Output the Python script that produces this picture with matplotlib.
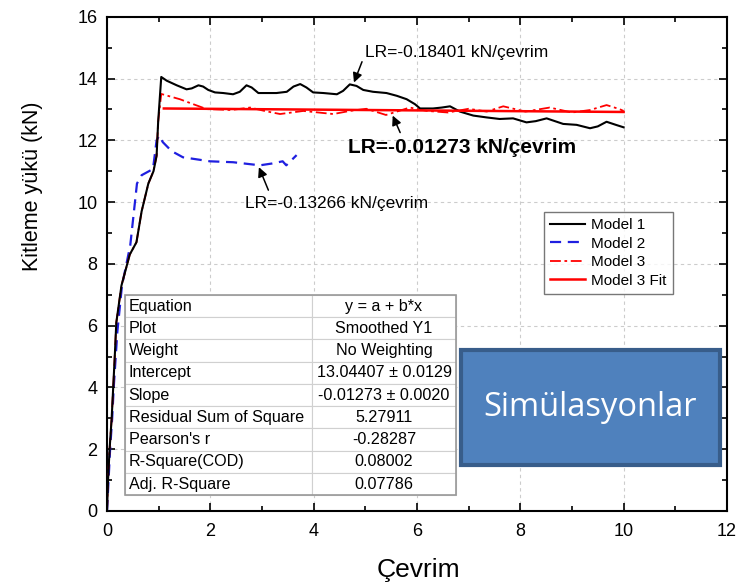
import numpy as np
import matplotlib
matplotlib.use("Agg")
import matplotlib.pyplot as plt
from matplotlib.patches import Rectangle

plt.rcParams['font.family'] = ['Liberation Sans', 'DejaVu Sans']

# Model 1 (black, solid)
m1_x = [0, 0.02, 0.05, 0.09, 0.12, 0.15, 0.18, 0.28, 0.44, 0.57, 0.67, 0.8, 0.9, 0.96, 0.99, 1.05,
        1.155, 1.35, 1.54, 1.64, 1.77, 1.86, 1.96, 2.09, 2.25, 2.44, 2.57, 2.70, 2.80, 2.93,
        3.28, 3.48, 3.61, 3.74, 3.86, 3.99, 4.19, 4.45, 4.57, 4.70, 4.83, 4.96, 5.15, 5.41,
        5.61, 5.8, 5.96, 6.06, 6.31, 6.48, 6.64, 6.83, 7.09, 7.35, 7.6, 7.86, 8.12, 8.3,
        8.51, 8.83, 9.09, 9.35, 9.5, 9.67, 9.85, 10.0]
m1_y = [0, 1.0, 2.0, 3.0, 4.0, 5.0, 6.1, 7.3, 8.3, 8.7, 9.7, 10.6, 11.0, 11.5, 12.6, 14.05,
        13.93, 13.78, 13.65, 13.68, 13.78, 13.74, 13.63, 13.55, 13.53, 13.49, 13.57, 13.78, 13.71, 13.53,
        13.53, 13.57, 13.74, 13.82, 13.71, 13.55, 13.53, 13.49, 13.6, 13.81, 13.76, 13.63, 13.57, 13.53,
        13.44, 13.33, 13.17, 13.03, 13.03, 13.06, 13.1, 12.93, 12.8, 12.74, 12.69, 12.71, 12.58, 12.62,
        12.71, 12.53, 12.5, 12.39, 12.45, 12.6, 12.5, 12.42]

# Model 2 (blue, dashed)
m2_x = [0, 0.03, 0.06, 0.1, 0.13, 0.2, 0.29, 0.45, 0.58, 0.67, 0.89, 0.96, 1.01, 1.08, 1.25, 1.47,
        1.99, 2.44, 2.96, 3.2, 3.4, 3.47, 3.67]
m2_y = [0, 1.0, 2.0, 3.0, 4.0, 5.8, 7.3, 8.6, 10.6, 10.87, 11.07, 12.0, 12.15, 11.94, 11.65, 11.45,
        11.32, 11.29, 11.19, 11.25, 11.32, 11.19, 11.52]

# Model 3 (red, dash-dot)
m3_x = [0, 0.02, 0.05, 0.09, 0.12, 0.15, 0.18, 0.28, 0.44, 0.57, 0.67, 0.8, 0.9, 0.96, 0.99, 1.05,
        1.41, 1.7, 1.93, 2.4, 2.77, 3.05, 3.35, 3.8, 4.38, 4.7, 5.02, 5.4, 5.86, 6.2, 6.6, 7.0,
        7.35, 7.67, 8.1, 8.57, 9.0, 9.35, 9.67, 9.92, 10.0]
m3_y = [0, 1.0, 2.0, 3.0, 4.0, 5.0, 6.1, 7.3, 8.3, 8.7, 9.7, 10.6, 11.0, 11.5, 12.6, 13.5,
        13.33, 13.15, 13.01, 12.98, 13.06, 12.95, 12.85, 12.95, 12.85, 12.95, 13.02, 12.82, 13.06, 12.95, 12.9, 13.02,
        12.93, 13.1, 12.93, 13.06, 12.9, 12.98, 13.14, 13.01, 12.95]

# Model 3 linear fit
fit_a = 13.04407
fit_b = -0.01273
fit_x = [1.1, 10.0]
fit_y = [fit_a + fit_b * x for x in fit_x]

table_rows = [
    ["Equation", "y = a + b*x"],
    ["Plot", "Smoothed Y1"],
    ["Weight", "No Weighting"],
    ["Intercept", "13.04407 \u00b1 0.0129"],
    ["Slope", "-0.01273 \u00b1 0.0020"],
    ["Residual Sum of Square", "5.27911"],
    ["Pearson's r", "-0.28287"],
    ["R-Square(COD)", "0.08002"],
    ["Adj. R-Square", "0.07786"],
]

fig = plt.figure(figsize=(7.38, 5.87), dpi=100)
ax = fig.add_axes([0.145, 0.1295, 0.84, 0.842])

ax.plot(m1_x, m1_y, color='black', lw=1.5, label='Model 1', zorder=4, solid_joinstyle='round')
ax.plot(m2_x, m2_y, color='#1f1fe0', lw=1.6, ls=(0, (5, 3)), label='Model 2', zorder=3)
ax.plot(m3_x, m3_y, color='red', lw=1.3, ls=(0, (6, 2, 1.5, 2)), label='Model 3', zorder=3)
ax.plot(fit_x, fit_y, color='red', lw=1.8, label='Model 3 Fit', zorder=5)

ax.set_xlim(0, 12)
ax.set_ylim(0, 16)
ax.set_xticks(np.arange(0, 13, 2))
ax.set_yticks(np.arange(0, 17, 2))
ax.set_xticks(np.arange(1, 12, 2), minor=True)
ax.set_yticks(np.arange(1, 16, 2), minor=True)
ax.tick_params(which='both', direction='in', top=True, right=True, labelsize=13, width=1.2)
ax.tick_params(which='major', length=6)
ax.tick_params(which='minor', length=3.5)
ax.tick_params(axis='x', which='major', pad=9)
ax.tick_params(axis='y', which='major', pad=7)
for s in ax.spines.values():
    s.set_linewidth(1.5)
ax.grid(True, which='major', ls=(0, (3, 3)), color='#cccccc', lw=0.8)

ax.set_xlabel('\u00c7evrim', fontsize=19)
ax.xaxis.set_label_coords(0.503, -0.095)
ax.set_ylabel('Kitleme y\u00fck\u00fc (kN)', fontsize=15.5)
ax.yaxis.set_label_coords(-0.103, 0.657)

# annotations
arrow = dict(arrowstyle='-|>', color='black', lw=1.1, mutation_scale=14)
ax.annotate('LR=-0.18401 kN/\u00e7evrim', xy=(4.78, 13.87), xytext=(4.99, 14.84),
            fontsize=12.5, va='center', ha='left',
            arrowprops=dict(arrow, shrinkA=0, shrinkB=0, relpos=(-0.01, 0.05)))
ax.annotate('LR=-0.01273 kN/\u00e7evrim', xy=(5.53, 12.8), xytext=(4.66, 11.77),
            fontsize=15, fontweight='bold', va='center', ha='left',
            arrowprops=dict(arrow, shrinkA=2, shrinkB=0, relpos=(0.24, 1.0)))
ax.annotate('LR=-0.13266 kN/\u00e7evrim', xy=(2.94, 11.13), xytext=(2.67, 9.97),
            fontsize=12.5, va='center', ha='left',
            arrowprops=dict(arrow, shrinkA=2, shrinkB=0, relpos=(0.14, 1.0)))

leg = ax.legend(loc='upper left', bbox_to_anchor=(0.705, 0.605), fontsize=11,
                frameon=True, fancybox=False, edgecolor='#555555', handlelength=2.3,
                borderpad=0.4, labelspacing=0.3, handletextpad=0.4, borderaxespad=0)
leg.get_frame().set_linewidth(1.0)

tbl = ax.table(cellText=table_rows, colWidths=[0.565, 0.435], cellLoc='center',
               bbox=[0.029, 0.032, 0.534, 0.405], zorder=6)
tbl.auto_set_font_size(False)
tbl.set_fontsize(11.6)
for (r, c), cell in tbl.get_celld().items():
    cell.set_edgecolor('#d0d0d0')
    cell.set_linewidth(0.8)
    cell.set_facecolor('white')
    if c == 0:
        cell.get_text().set_ha('left')
        cell.PAD = 0.02
border = Rectangle((0.029, 0.032), 0.534, 0.405, transform=ax.transAxes, fill=False,
                   edgecolor='#999999', lw=1.2, zorder=7)
ax.add_patch(border)

# overlay label box
box = Rectangle((0.571, 0.093), 0.418, 0.232, transform=ax.transAxes,
                facecolor='#4f81bd', edgecolor='#385d8a', lw=3, zorder=10, clip_on=False)
ax.add_patch(box)
ax.text(0.571 + 0.209, 0.093 + 0.116, 'Sim\u00fclasyonlar', transform=ax.transAxes,
        ha='center', va='center', color='white', fontsize=23.5, family='Open Sans', zorder=11)

fig.savefig('out.png', dpi=100)
